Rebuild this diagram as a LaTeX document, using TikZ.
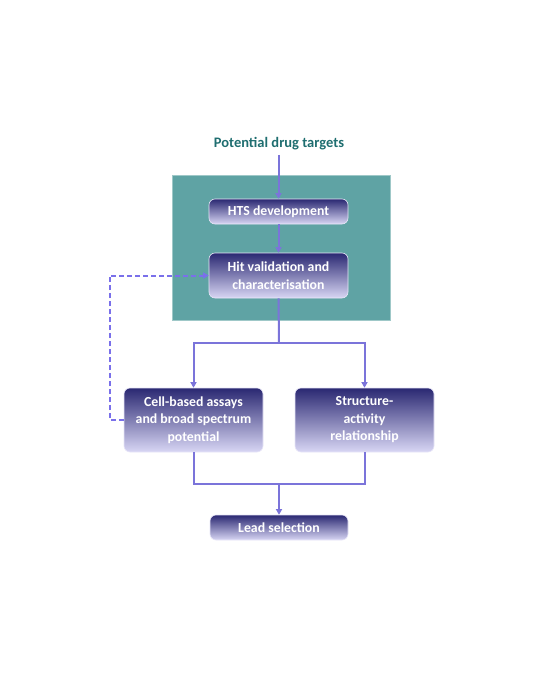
\documentclass[tikz,border=0pt]{standalone}
\usepackage{fontspec}
\setmainfont{Carlito}
\usetikzlibrary{arrows.meta}
\definecolor{teal1}{HTML}{5FA3A4}
\definecolor{titlecol}{HTML}{1F6E70}
\definecolor{navy}{HTML}{2A2872}
\definecolor{lav}{HTML}{D8D6F4}
\definecolor{arrcol}{HTML}{7B74DA}
\definecolor{dashcol}{HTML}{7A70EA}
\tikzset{
  procbox/.style={rounded corners=6pt, top color=navy, bottom color=lav, draw=lav!60!white, line width=0.6pt,
    text=white, font=\fontsize{13.8}{17.5}\selectfont\bfseries, align=center, inner sep=0pt},
  conn/.style={draw=arrcol, line width=2pt, -{Triangle[length=5.5pt,width=6pt]}},
  connplain/.style={draw=arrcol, line width=2pt},
  dashconn/.style={draw=dashcol, line width=2pt, dash pattern=on 5pt off 3pt, -{Triangle[length=5.5pt,width=6pt,fill=dashcol]}},
}
\begin{document}
\begin{tikzpicture}[x=1pt,y=-1pt]
\useasboundingbox (0,0) rectangle (540,678);
\fill[white] (0,0) rectangle (540,678);
\node[fill=teal1, draw=teal1!60!white, line width=0.5pt, minimum width=218pt, minimum height=145pt, inner sep=0pt] (panel) at (281,247.5) {};
\node[text=titlecol, font=\fontsize{14.5}{16}\selectfont\bfseries] (title) at (279,144) {Potential drug targets};
\node[procbox, minimum width=139pt, minimum height=25pt] (hts) at (278.5,211.5) {HTS development};
\node[procbox, minimum width=139pt, minimum height=45pt] (hit) at (278.5,275.5) {Hit validation and\\characterisation};
\node[procbox, minimum width=139pt, minimum height=64pt] (cell) at (193.5,420) {Cell-based assays\\and broad spectrum\\potential};
\node[procbox, minimum width=139pt, minimum height=64pt] (sar) at (364.5,420) {Structure-\\activity\\relationship};
\node[procbox, minimum width=138pt, minimum height=25pt] (lead) at (279,527.5) {Lead selection};
\coordinate (split) at (279,343);
\coordinate (join) at (279,484);
\draw[conn] (title.south -| hts.north) ++(0,1) -- (hts.north);
\draw[conn] (hts) -- (hit);
\draw[connplain] (hit.south) -- (split);
\draw[conn] (split) -| (cell.north);
\draw[conn] (split) -| (sar.north);
\draw[connplain] (cell.south) |- (join);
\draw[connplain] (sar.south) |- (join);
\draw[conn] (join) -- (lead.north);
\draw[dashconn] (cell.west) -- ++(-14,0) |- (hit.west);
\end{tikzpicture}
\end{document}
